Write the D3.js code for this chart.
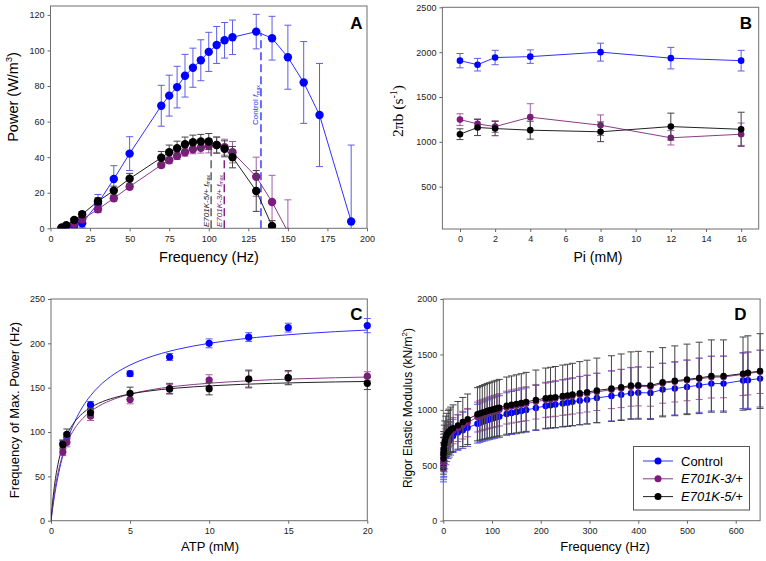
<!DOCTYPE html>
<html><head><meta charset="utf-8">
<script src="https://cdn.jsdelivr.net/npm/d3@7"></script>
<style>
body{margin:0;background:#fff}
svg{display:block}
text{font-family:"Liberation Sans",Arial,Helvetica,sans-serif}
</style>
</head><body>
<svg id="c" width="766" height="561"></svg>
<script>
// ---------------- DATA ----------------
const seriesNames = ["Control", "E701K-3/+", "E701K-5/+"];

// Panel A: power vs frequency
const A_freqCtrl = [7,10,15,20,30,40,50,70,75,80,85,90,95,100,105,110,115,130,140,150,160,170,190];
const A_ctrl     = [0.3,0.8,1.5,2.8,14,27.7,42,68.9,74.6,79.4,85.8,90.3,94.5,99.2,103.1,105.7,107.4,110.6,106.9,96.2,82,63.7,3.8];
const A_ctrlErr  = [0.3,0.5,1,2.5,5,7.5,9.5,11.5,11.5,11.7,12,11,11.5,11,10.4,10,9.7,9.7,12.3,18,23,29,43];
const A_freqE3   = [7,10,15,20,30,40,50,70,75,80,85,90,95,100,105,110,115,130,140,150];
const A_e3       = [0.2,1,2.5,5,10.7,16.9,23.4,35.6,38.3,40.7,42.8,44.4,45.3,46.4,46.8,45.6,42.8,29,14.8,-2];
const A_e3Err    = [0.3,0.5,0.8,1,1.5,1.5,1.5,1.5,1.8,2,2.2,2.5,3,4,4.5,4.5,6,11,15,18];
const A_freqE5   = [7,10,15,20,30,40,50,70,75,80,85,90,95,100,105,110,115,130,140];
const A_e5       = [0.3,1.7,4.7,7.9,15.2,21.2,27.9,39.7,42.8,45,47.3,48.4,48.8,48.8,46.8,44.7,40,21,1.3];
const A_e5Err    = [0.3,0.5,1,1.5,2,2.5,3,3.5,4,4,4,4,4,4.5,4.5,4.5,6,11.5,3];
const A_fmax     = [133, 109.8, 101.5];      // Control, E701K-3/+, E701K-5/+
const A_fmaxTop  = [110, 45, 45];
const A_xTicks = [0,25,50,75,100,125,150,175,200];
const A_yTicks = [0,20,40,60,80,100,120];

// Panel B: 2πb vs Pi
const B_pi = [0,1,2,4,8,12,16];
const B_ctrl = [1905,1860,1940,1950,2000,1933,1905];
const B_ctrlErr = [80,70,80,75,100,120,115];
const B_e3 = [1248,1200,1170,1275,1185,1045,1085];
const B_e3Err = [65,55,65,150,115,80,125];
const B_e5 = [1085,1160,1148,1130,1112,1170,1140];
const B_e5Err = [60,90,80,100,110,150,190];
const B_xTicks = [0,2,4,6,8,10,12,14,16];
const B_yTicks = [500,1000,1500,2000,2500];

// Panel C: frequency of max power vs ATP
const C_atp = [0.75,1,2.5,5,7.5,10,12.5,15,20];
const C_ctrl = [87,94,130.5,165.8,184.6,200,207,217.7,220];
const C_ctrlErr = [4,5,4,3,4,5,5,5,8];
const C_e3 = [77.4,88.3,118,136.8,148.5,158.6,159.8,161,163];
const C_e3Err = [4,5,5,5,5,6,9,7,5];
const C_e5 = [85.7,97.4,122,143.6,148.9,148.9,159.8,161.3,154.9];
const C_e5Err = [5,6,5,7,6,7,10,8,7];
// fitted curves
const C_fitX    = [0,0.1,0.25,0.5,0.75,1,1.5,2,2.5,3,4,5,6,7,8,10,12,14,16,18,20];
const C_fitCtrl = [0,13.5,31.1,54.8,73.5,88.7,111.7,128.4,141,150.9,165.4,175.5,183,188.7,193.3,200,204.8,208.3,211,213.2,215];
const C_fitE3   = [0,16.2,35.5,58.7,75,87.2,104.1,115.2,123.1,129,137.2,142.7,146.6,149.5,151.8,155,157.3,159,160.2,161.2,162];
const C_fitE5   = [0,20.8,43.6,68.7,85.1,96.6,111.6,121.1,127.6,132.3,138.7,142.9,145.8,148,149.6,152,153.7,154.9,155.8,156.5,157];
const C_xTicks = [0,5,10,15,20];
const C_yTicks = [0,50,100,150,200,250];

// Panel D: rigor elastic modulus vs frequency
const D_freq = [0.25,0.5,0.75,1,2,3,5,7,10,12,15,20,30,40,50,70,75,80,85,90,95,100,105,110,115,130,140,150,160,170,190,210,220,230,245,255,265,280,295,315,345,365,385,400,425,450,475,500,525,550,575,615,625,650];
const D_ctrl = [470,495,515,530,575,605,645,675,705,720,740,765,795,815,838,875,884,893,900,908,915,922,928,935,940,962,972,980,990,998,1017,1035,1042,1048,1058,1065,1072,1083,1092,1108,1125,1137,1150,1155,1153,1183,1192,1207,1222,1237,1237,1265,1268,1282];
const D_ctrlErr = [120,125,128,130,135,138,140,142,145,146,148,150,160,163,168,175,177,178,180,181,183,184,185,187,188,192,194,196,198,200,203,207,208,210,212,213,214,217,218,222,225,227,230,231,231,237,238,241,244,247,247,253,254,256];
const D_e3 = [530,570,595,615,660,690,725,748,770,782,797,812,835,862,885,935,945,953,960,968,975,981,987,993,1000,1020,1030,1038,1047,1055,1073,1090,1096,1102,1112,1118,1125,1137,1147,1162,1182,1193,1208,1212,1208,1240,1253,1266,1280,1295,1297,1320,1328,1343];
const D_e3Err = [80,83,86,90,96,100,105,108,112,113,116,118,121,125,128,135,137,138,139,140,141,142,143,144,145,148,149,150,152,153,156,158,159,160,161,162,163,165,166,168,171,173,175,176,175,180,182,184,186,188,188,191,193,195];
const D_e5 = [560,600,625,645,690,720,755,775,795,805,820,835,860,890,915,960,968,975,982,990,996,1002,1008,1014,1020,1038,1046,1054,1062,1072,1089,1105,1110,1115,1126,1131,1138,1150,1160,1175,1192,1204,1219,1222,1219,1249,1262,1275,1288,1305,1305,1327,1335,1350];
const D_e5Err = [140,150,156,160,172,180,188,194,200,202,205,210,215,222,228,240,242,244,246,248,249,250,252,253,255,258,260,262,264,266,270,272,274,276,278,280,282,285,288,292,296,300,304,306,305,312,315,318,322,326,326,330,333,337];
const D_xTicks = [0,100,200,300,400,500,600];
const D_yTicks = [0,500,1000,1500,2000];

// ---------------- STYLE ----------------
const COL = {
  ctrl: {dot:"#0000ff", line:"#2f2fff", err:"#5d5de6"},
  e3:   {dot:"#7d1a7d", line:"#8a3a8a", err:"#a45fa4"},
  e5:   {dot:"#000000", line:"#222222", err:"#444444"}
};

const svg = d3.select("#c");
let clipN = 0;

function makePanel(o){
  const g = svg.append("g");
  const [xL,xR] = o.x.range();
  const [yB,yT] = o.y.range();
  const id = "clip" + (clipN++);
  svg.append("clipPath").attr("id", id).append("rect")
    .attr("x", xL).attr("y", yT).attr("width", xR-xL).attr("height", yB-yT);
  const fmt = d3.format("d");
  const ax = d3.axisBottom(o.x).tickValues(o.xt).tickFormat(fmt).tickSize(3).tickSizeOuter(0).tickPadding(4);
  const ay = d3.axisLeft(o.y).tickValues(o.yt).tickFormat(fmt).tickSize(3).tickSizeOuter(0).tickPadding(3);
  const gx = g.append("g").attr("transform", `translate(0,${yB})`).call(ax);
  const gy = g.append("g").attr("transform", `translate(${xL},0)`).call(ay);
  [gx,gy].forEach(a=>{
    a.select(".domain").remove();
    a.selectAll(".tick line").attr("stroke","#666");
    a.selectAll(".tick text").attr("font-size", 9).attr("fill","#222")
      .style("font-family", '"Liberation Sans",Arial,sans-serif');
  });
  g.append("rect").attr("x", xL).attr("y", yT).attr("width", xR-xL).attr("height", yB-yT)
    .attr("fill","none").attr("stroke","#6e6e6e").attr("stroke-width",1);
  const plot = g.append("g").attr("clip-path", `url(#${id})`);
  return {g, plot};
}

function drawSeries(plot, x, y, xs, vs, es, c, opt){
  const data = xs.map((d,i)=>({x:d, v:vs[i], e: es ? es[i] : 0}));
  const cap = opt.cap || 3.5;
  const ge = plot.append("g").attr("stroke", c.err).attr("stroke-width", 1);
  data.forEach(d=>{
    if(!d.e) return;
    const xp = x(d.x), yt = y(d.v + d.e), yb = y(d.v - d.e);
    ge.append("line").attr("x1",xp).attr("x2",xp).attr("y1",yt).attr("y2",yb);
    ge.append("line").attr("x1",xp-cap).attr("x2",xp+cap).attr("y1",yt).attr("y2",yt);
    ge.append("line").attr("x1",xp-cap).attr("x2",xp+cap).attr("y1",yb).attr("y2",yb);
  });
  if(opt.line !== false){
    plot.append("path").datum(data)
      .attr("fill","none").attr("stroke", c.line).attr("stroke-width", opt.lw || 1)
      .attr("d", d3.line().x(d=>x(d.x)).y(d=>y(d.v)));
  }
  plot.append("g").selectAll("circle").data(data).join("circle")
    .attr("cx", d=>x(d.x)).attr("cy", d=>y(d.v)).attr("r", opt.r || 3.5)
    .attr("fill", c.dot);
}

function label(txt, x, y){
  svg.append("text").attr("x",x).attr("y",y).attr("text-anchor","middle")
    .attr("font-size",17).attr("font-weight","bold").attr("fill","#000").text(txt);
}

// ---------------- PANEL A ----------------
{
  const x = d3.scaleLinear().domain([0,200]).range([50.5,367]);
  const y = d3.scaleLinear().domain([0,125]).range([228.3,6]);
  const {g, plot} = makePanel({x, y, xt:A_xTicks, yt:A_yTicks});
  const fc = [COL.ctrl.line, COL.e3.dot, "#555"];
  A_fmax.forEach((f,i)=>{
    plot.append("line").attr("x1",x(f)).attr("x2",x(f)).attr("y1",y(0)).attr("y2",y(A_fmaxTop[i]))
      .attr("stroke", fc[i]).attr("stroke-width",1.4).attr("stroke-dasharray","8,4");
  });
  drawSeries(plot, x, y, A_freqCtrl, A_ctrl, A_ctrlErr, COL.ctrl, {r:4.2, cap:3.5});
  drawSeries(plot, x, y, A_freqE3, A_e3, A_e3Err, COL.e3, {r:4.2, cap:3.5});
  drawSeries(plot, x, y, A_freqE5, A_e5, A_e5Err, COL.e5, {r:4.2, cap:3.5});
  const labs = [
    {t:"Control ", col:"#2f2fff", f:A_fmax[0], y0:125, it:false},
    {t:"E701K-3/+ ", col:COL.e3.dot, f:A_fmax[1], y0:227, it:true},
    {t:"E701K-5/+ ", col:"#222", f:A_fmax[2], y0:227, it:true}
  ];
  labs.forEach(l=>{
    const xp = x(l.f) - 2.5;
    const t = g.append("text").attr("transform",`translate(${xp},${l.y0}) rotate(-90)`)
      .attr("font-size",8).attr("fill",l.col);
    t.append("tspan").attr("font-style", l.it ? "italic" : "normal").text(l.t);
    t.append("tspan").attr("font-style","italic").text("f");
    t.append("tspan").attr("font-size",5).attr("dy",1.5).text("max");
  });
  svg.append("text").attr("x",209).attr("y",262).attr("text-anchor","middle")
    .attr("font-size",14.5).text("Frequency (Hz)");
  const yt = svg.append("text").attr("transform","translate(18,97) rotate(-90)")
    .attr("text-anchor","middle").attr("font-size",14.5);
  yt.append("tspan").text("Power (W/m");
  yt.append("tspan").attr("font-size",9).attr("dy",-6).text("3");
  yt.append("tspan").attr("dy",6).text(")");
  label("A", 356.5, 28.5);
}

// ---------------- PANEL B ----------------
{
  const x = d3.scaleLinear().domain([-1,17]).range([442.4,758.7]);
  const y = d3.scaleLinear().domain([28,2500]).range([229,7.3]);
  const {g, plot} = makePanel({x, y, xt:B_xTicks, yt:B_yTicks});
  drawSeries(plot, x, y, B_pi, B_ctrl, B_ctrlErr, COL.ctrl, {r:3.3, cap:3.5});
  drawSeries(plot, x, y, B_pi, B_e3, B_e3Err, COL.e3, {r:3.3, cap:3.5});
  drawSeries(plot, x, y, B_pi, B_e5, B_e5Err, COL.e5, {r:3.3, cap:3.5});
  svg.append("text").attr("x",598).attr("y",262).attr("text-anchor","middle")
    .attr("font-size",14).text("Pi (mM)");
  const yt = svg.append("text").attr("transform","translate(403,111) rotate(-90)")
    .attr("text-anchor","middle").attr("font-size",15.5)
    .style("font-family",'"Liberation Serif","Times New Roman",serif');
  yt.append("tspan").text("2\u03C0b (s");
  yt.append("tspan").attr("font-size",10).attr("dy",-6).text("-1");
  yt.append("tspan").attr("dy",6).text(")");
  label("B", 746, 28.5);
}

// ---------------- PANEL C ----------------
{
  const x = d3.scaleLinear().domain([0,20]).range([51,367.3]);
  const y = d3.scaleLinear().domain([0,250]).range([520.7,299]);
  const {g, plot} = makePanel({x, y, xt:C_xTicks, yt:C_yTicks});
  const fits = [[C_fitCtrl, COL.ctrl.line],[C_fitE3, COL.e3.line],[C_fitE5, "#222"]];
  fits.forEach(([arr,col])=>{
    plot.append("path").datum(C_fitX.map((d,i)=>[d,arr[i]]))
      .attr("fill","none").attr("stroke",col).attr("stroke-width",1)
      .attr("d", d3.line().x(d=>x(d[0])).y(d=>y(d[1])).curve(d3.curveMonotoneX));
  });
  const g2 = svg.append("g");
  drawSeries(g2, x, y, C_atp, C_ctrl, C_ctrlErr, COL.ctrl, {r:3.6, cap:3.5, line:false});
  drawSeries(g2, x, y, C_atp, C_e3, C_e3Err, COL.e3, {r:3.6, cap:3.5, line:false});
  drawSeries(g2, x, y, C_atp, C_e5, C_e5Err, COL.e5, {r:3.6, cap:3.5, line:false});
  svg.append("text").attr("x",210).attr("y",551).attr("text-anchor","middle")
    .attr("font-size",13).text("ATP (mM)");
  svg.append("text").attr("transform","translate(19,410) rotate(-90)")
    .attr("text-anchor","middle").attr("font-size",13).text("Frequency of Max. Power (Hz)");
  label("C", 356.5, 320);
}

// ---------------- PANEL D ----------------
{
  const x = d3.scaleLinear().domain([0,650]).range([443.3,760.1]);
  const y = d3.scaleLinear().domain([0,2000]).range([520.7,299]);
  const {g, plot} = makePanel({x, y, xt:D_xTicks, yt:D_yTicks});
  const g2 = svg.append("g");
  drawSeries(g2, x, y, D_freq, D_ctrl, D_ctrlErr, COL.ctrl, {r:3.2, cap:3.5});
  drawSeries(g2, x, y, D_freq, D_e3, D_e3Err, COL.e3, {r:3.2, cap:3.5});
  drawSeries(g2, x, y, D_freq, D_e5, D_e5Err, COL.e5, {r:3.2, cap:3.5});
  svg.append("text").attr("x",605).attr("y",551).attr("text-anchor","middle")
    .attr("font-size",13).text("Frequency (Hz)");
  const yt = svg.append("text").attr("transform","translate(412,408) rotate(-90)")
    .attr("text-anchor","middle").attr("font-size",12);
  yt.append("tspan").text("Rigor Elastic Modulus (kN/m");
  yt.append("tspan").attr("font-size",8).attr("dy",-5).text("2");
  yt.append("tspan").attr("dy",5).text(")");
  label("D", 740.5, 320);
  const lg = svg.append("g");
  lg.append("rect").attr("x",633.5).attr("y",446.5).attr("width",116).attr("height",63.5)
    .attr("fill","#fff").attr("stroke","#555").attr("stroke-width",1);
  const items = [[seriesNames[0], COL.ctrl, false],[seriesNames[1], COL.e3, true],[seriesNames[2], COL.e5, true]];
  items.forEach(([n,c,it],i)=>{
    const yy = 461 + i*17.8;
    lg.append("line").attr("x1",643).attr("x2",673).attr("y1",yy).attr("y2",yy)
      .attr("stroke",c.line).attr("stroke-width",1);
    lg.append("circle").attr("cx",658).attr("cy",yy).attr("r",3.5).attr("fill",c.dot);
    lg.append("text").attr("x",681).attr("y",yy+4.5).attr("font-size",13)
      .attr("font-style", it ? "italic" : "normal").text(n);
  });
}
</script>
</body></html>
